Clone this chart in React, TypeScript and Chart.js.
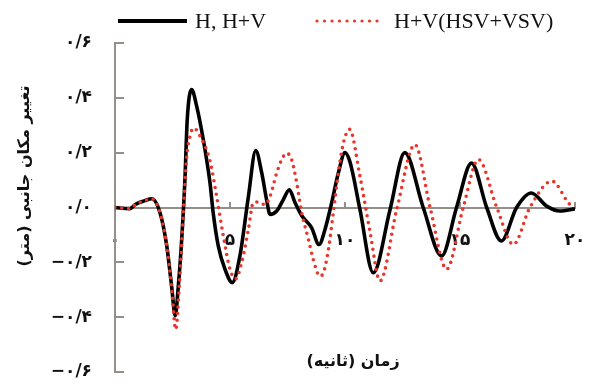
import { useEffect, useRef } from "react";
import { Chart, registerables } from "chart.js";

Chart.register(...registerables);

// Time (s) and lateral displacement (m) for the H / H+V record
const timeH = [
  0, 0.65, 0.9, 1.3, 1.6, 1.96, 2.25, 2.46, 2.62, 2.75, 2.9, 3.04, 3.14, 3.33, 3.55, 3.84, 4.13, 4.27, 4.49, 4.78,
  5.1, 5.43, 5.8, 6.12, 6.38, 6.59, 6.74, 7.03, 7.32, 7.58, 7.83, 8.12, 8.55, 8.87, 9.13, 9.42, 9.71, 10.0, 10.22,
  10.65, 11.23, 11.96, 12.6, 13.4, 14.2, 14.85, 15.5, 16.16, 16.8, 17.46, 18.1, 18.77, 19.35, 20,
];
const dispH = [
  0, -0.004, 0.012, 0.025, 0.032, -0.02, -0.14, -0.286, -0.395, -0.29, -0.116, 0.102, 0.32, 0.43, 0.37, 0.247, 0.09,
  -0.02, -0.14, -0.225, -0.274, -0.177, 0.04, 0.208, 0.126, 0.029, -0.025, -0.013, 0.029, 0.065, 0.017, -0.03, -0.074,
  -0.135, -0.08, 0.017, 0.126, 0.2, 0.165, -0.007, -0.238, -0.007, 0.2, 0.0, -0.177, 0.0, 0.162, 0.0, -0.122, 0.0,
  0.053, 0.005, -0.013, -0.005,
];

// Time (s) and lateral displacement (m) for the H+V (HSV+VSV) record
const timeHSV = [
  0, 0.65, 0.9, 1.3, 1.6, 1.96, 2.25, 2.46, 2.64, 2.8, 2.97, 3.12, 3.26, 3.42, 3.7, 4.13, 4.42, 4.71, 5.0, 5.25, 5.51,
  5.8, 6.01, 6.23, 6.52, 6.74, 7.03, 7.28, 7.46, 7.68, 7.9, 8.12, 8.41, 8.62, 8.9, 9.06, 9.28, 9.49, 9.71, 9.93, 10.2,
  10.65, 11.09, 11.52, 12.25, 13.04, 13.7, 14.42, 15.14, 15.8, 16.6, 17.32, 18.04, 19.0, 19.71, 19.9,
];
const dispHSV = [
  0, -0.004, 0.012, 0.025, 0.032, -0.02, -0.14, -0.29, -0.445, -0.28, -0.02, 0.187, 0.26, 0.29, 0.26, 0.17, 0.04,
  -0.104, -0.225, -0.26, -0.2, -0.08, 0.017, 0.02, 0.01, 0.04, 0.126, 0.18, 0.198, 0.175, 0.09, -0.02, -0.116, -0.19,
  -0.25, -0.238, -0.153, -0.02, 0.126, 0.235, 0.285, 0.114, -0.09, -0.268, -0.007, 0.229, 0.0, -0.225, 0.0, 0.175,
  0.0, -0.135, 0.0, 0.096, 0.017, 0.0,
];

const seriesLabels = ["H, H+V", "H+V(HSV+VSV)"];
const xAxisTitle = "زمان (ثانیه)";
const yAxisTitle = "تغییر مکان جانبی (متر)";
const xRange = [0, 20];
const yRange = [-0.6, 0.6];

const persianDigits = "۰۱۲۳۴۵۶۷۸۹";
const toPersian = (s: string) =>
  s
    .replace(/[0-9]/g, (d) => persianDigits[Number(d)])
    .replace(".", "/")
    .replace("-", "−");

const AXIS_GRAY = "#958f8a";
const RED = "#e8362c";

const overlayPlugin = {
  id: "overlay",
  afterDraw(chart: Chart) {
    const ctx = chart.ctx;
    const area = chart.chartArea;
    ctx.save();

    // legend
    const ly = 21;
    ctx.strokeStyle = "#000";
    ctx.lineWidth = 4;
    ctx.lineCap = "butt";
    ctx.beginPath();
    ctx.moveTo(118, ly);
    ctx.lineTo(187, ly);
    ctx.stroke();

    ctx.strokeStyle = RED;
    ctx.lineWidth = 3.2;
    ctx.lineCap = "round";
    ctx.setLineDash([0, 7.5]);
    ctx.beginPath();
    ctx.moveTo(317, ly);
    ctx.lineTo(378, ly);
    ctx.stroke();
    ctx.setLineDash([]);

    ctx.fillStyle = "#111";
    ctx.font = "22px 'Liberation Serif'";
    ctx.textBaseline = "middle";
    ctx.textAlign = "left";
    ctx.fillText(seriesLabels[0], 195, ly + 1);
    ctx.fillText(seriesLabels[1], 394, ly + 1);

    // axis titles
    ctx.direction = "rtl";
    ctx.textAlign = "center";
    ctx.fillStyle = "#111";
    ctx.font = "bold 16px 'DejaVu Sans'";
    ctx.fillText(xAxisTitle, (area.left + area.right) / 2 + 8, area.bottom - 10);

    ctx.translate(25, area.top + 133);
    ctx.rotate(-Math.PI / 2);
    ctx.fillText(yAxisTitle, 0, 0);
    ctx.restore();
  },
};

export default function App() {
  const canvasRef = useRef<HTMLCanvasElement | null>(null);

  useEffect(() => {
    const canvas = canvasRef.current;
    if (!canvas) return;
    const chart = new Chart(canvas, {
      type: "line",
      data: {
        datasets: [
          {
            label: seriesLabels[1],
            data: timeHSV.map((t, i) => ({ x: t, y: dispHSV[i] })),
            borderColor: RED,
            borderWidth: 3.6,
            borderDash: [0, 6.8],
            borderCapStyle: "round",
            pointRadius: 0,
            cubicInterpolationMode: "monotone",
            order: 0,
          },
          {
            label: seriesLabels[0],
            data: timeH.map((t, i) => ({ x: t, y: dispH[i] })),
            borderColor: "#000",
            borderWidth: 3.6,
            pointRadius: 0,
            cubicInterpolationMode: "monotone",
            order: 1,
          },
        ],
      },
      options: {
        responsive: false,
        animation: false,
        devicePixelRatio: 1,
        layout: { padding: { left: 0, top: 43, right: 17, bottom: 13 } },
        plugins: { legend: { display: false }, tooltip: { enabled: false } },
        scales: {
          x: {
            type: "linear",
            position: { y: 0 },
            min: xRange[0],
            max: xRange[1],
            afterFit: (scale) => {
              scale.height = 0;
              scale.paddingLeft = 0;
              scale.paddingRight = 0;
            },
            grid: { drawOnChartArea: false, tickLength: -7, color: AXIS_GRAY, lineWidth: 2 },
            border: { color: AXIS_GRAY, width: 2 },
            ticks: {
              stepSize: 5,
              padding: 30,
              color: "#111",
              font: { family: "'DejaVu Sans'", size: 17, weight: "bold" },
              callback: (v) => toPersian(String(v)),
            },
          },
          y: {
            type: "linear",
            min: yRange[0],
            max: yRange[1],
            afterFit: (scale) => {
              scale.width = 115;
              scale.paddingTop = 0;
              scale.paddingBottom = 0;
            },
            grid: { drawOnChartArea: false, tickLength: -9, color: AXIS_GRAY, lineWidth: 2 },
            border: { color: AXIS_GRAY, width: 2 },
            ticks: {
              stepSize: 0.2,
              padding: 32,
              color: "#111",
              font: { family: "'DejaVu Sans'", size: 17, weight: "bold" },
              callback: (v) => toPersian(Number(v).toFixed(1)),
            },
          },
        },
      },
      plugins: [overlayPlugin],
    });
    return () => chart.destroy();
  }, []);

  return (
    <div style={{ position: "absolute", left: 0, top: 0, width: 592, height: 385, background: "#fff" }}>
      <canvas ref={canvasRef} width={592} height={385} />
    </div>
  );
}
